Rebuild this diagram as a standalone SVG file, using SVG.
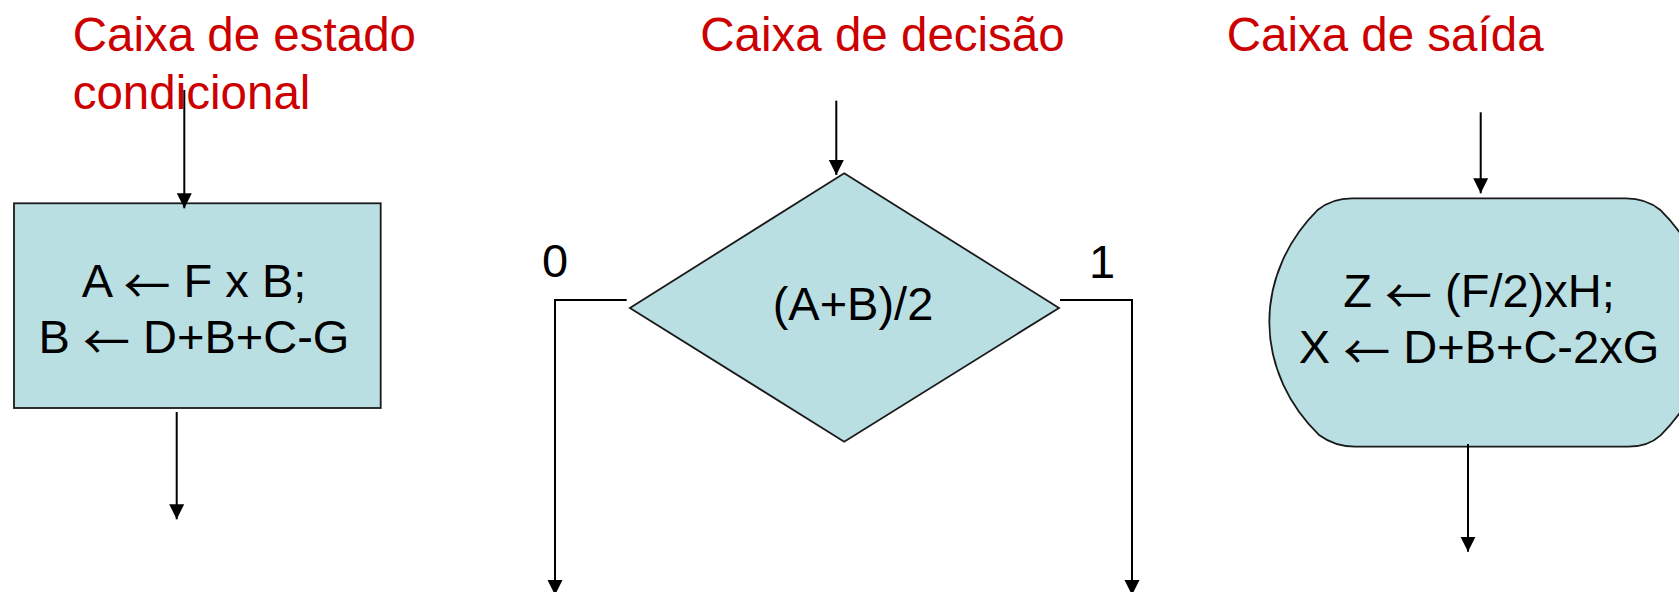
<svg xmlns="http://www.w3.org/2000/svg" width="1679" height="592" viewBox="0 0 1679 592">
  <style>
    .title { font-family: "Liberation Sans", Arial, sans-serif; font-size: 47.5px; fill: #CC0000; }
    .body { font-family: "Liberation Sans", Arial, sans-serif; font-size: 47px; fill: #000000; }
    .arr { font-family: "Noto Sans CJK JP", "Noto Sans CJK SC", sans-serif; }
    .shape { fill: #BADFE3; stroke: #1a1a1a; stroke-width: 1.8; }
    .conn { fill: none; stroke: #000000; stroke-width: 2; }
  </style>
  <defs>
    <marker id="arrow" markerUnits="userSpaceOnUse" markerWidth="16" markerHeight="16" refX="15" refY="8" orient="auto">
      <path d="M0,0.5 L15,8 L0,15.5 Z" fill="#000000"/>
    </marker>
  </defs>
  <rect width="1679" height="592" fill="#ffffff"/>

  <g id="titles">
    <text class="title" x="72.7" y="51">Caixa de estado</text>
    <text class="title" x="72.7" y="109">condicional</text>
    <text class="title" x="700.3" y="51">Caixa de decisão</text>
    <text class="title" x="1226.7" y="51">Caixa de saída</text>
  </g>

  <g id="node-state">
    <rect class="shape" x="14" y="203.3" width="366.7" height="204.7"/>
    <text class="body" x="194" y="296.7" text-anchor="middle">A <tspan class="arr" dy="6">←</tspan><tspan dy="-6"> F x B;</tspan></text>
    <text class="body" x="194" y="353.3" text-anchor="middle">B <tspan class="arr" dy="6">←</tspan><tspan dy="-6"> D+B+C-G</tspan></text>
  </g>

  <g id="node-decision">
    <polygon class="shape" points="844.2,173.3 1059,307.9 844.2,441.7 629.9,307.9"/>
    <text class="body" x="853" y="320" text-anchor="middle">(A+B)/2</text>
  </g>

  <g id="node-output">
    <path class="shape" d="M1352,198.3 L1626,198.3 Q1646,198.3 1660,209.7 A200,171.5 0 0 1 1660.6,435.3 Q1648,446.7 1628,446.7 L1355,446.7 Q1335,446.7 1319.4,435.3 A200,171.5 0 0 1 1318,209.7 Q1332,198.3 1352,198.3 Z"/>
    <text class="body" x="1479" y="306.7" text-anchor="middle">Z <tspan class="arr" dy="6">←</tspan><tspan dy="-6"> (F/2)xH;</tspan></text>
    <text class="body" x="1479" y="363.3" text-anchor="middle">X <tspan class="arr" dy="6">←</tspan><tspan dy="-6"> D+B+C-2xG</tspan></text>
  </g>

  <g id="labels">
    <text class="body" x="542" y="277">0</text>
    <text class="body" x="1089" y="278">1</text>
  </g>

  <g id="connectors">
    <line class="conn" x1="184.3" y1="90" x2="184.3" y2="208.3" marker-end="url(#arrow)"/>
    <line class="conn" x1="176.7" y1="412" x2="176.7" y2="519.3" marker-end="url(#arrow)"/>
    <line class="conn" x1="836.3" y1="100.7" x2="836.3" y2="175" marker-end="url(#arrow)"/>
    <polyline class="conn" points="626.7,300 555,300 555,595" marker-end="url(#arrow)"/>
    <polyline class="conn" points="1060,300 1132,300 1132,595" marker-end="url(#arrow)"/>
    <line class="conn" x1="1480.7" y1="112.3" x2="1480.7" y2="193.3" marker-end="url(#arrow)"/>
    <line class="conn" x1="1468" y1="444" x2="1468" y2="551.7" marker-end="url(#arrow)"/>
  </g>
</svg>
